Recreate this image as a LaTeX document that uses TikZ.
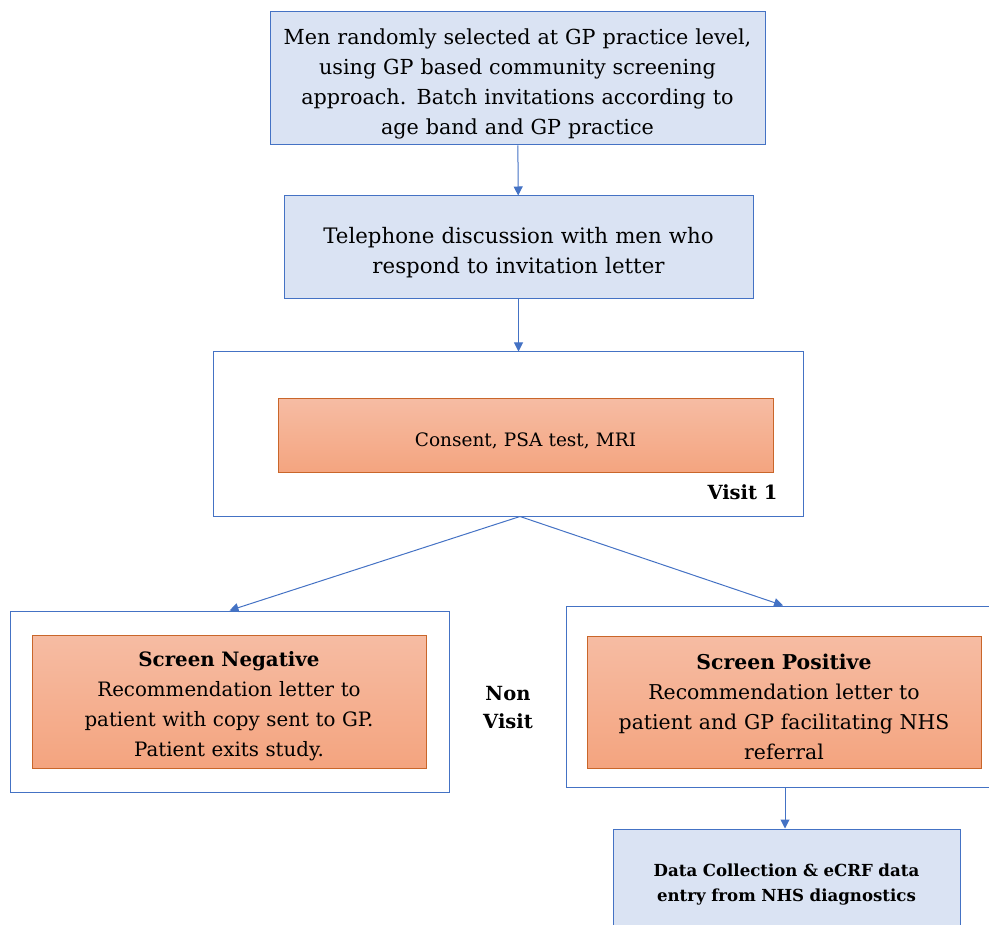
\documentclass[tikz,border=0pt]{standalone}
\usepackage{fontspec}
\setmainfont{DejaVu Serif}
\usetikzlibrary{positioning,arrows.meta}
\definecolor{boxblue}{HTML}{4472C4}
\definecolor{boxfill}{HTML}{DAE3F3}
\definecolor{orline}{HTML}{C9662A}
\definecolor{ortop}{HTML}{F6BCA3}
\definecolor{orbot}{HTML}{F4A47F}

\begin{document}
\begin{tikzpicture}[
		x=1pt,y=-1pt,
		bluebox/.style={
			draw=boxblue,
			fill=boxfill,
			line width=1pt,
			align=center,
			text width=468pt,
			inner sep=0pt,
			execute at begin node={\rule{0pt}{1.25em}},
			font=\fontsize{20.7}{30}\selectfont
		},
		framebox/.style={
			draw=boxblue,
			fill=white,
			line width=1pt,
			inner sep=0pt
		},
		orbox/.style={
			draw=orline,
			top color=ortop,
			bottom color=orbot,
			line width=1pt,
			align=center,
			text width=380pt,
			inner sep=0pt,
			execute at begin node={\rule{0pt}{1.25em}},
			font=\fontsize{19.8}{30}\selectfont
		},
		tag/.style={
			align=center,
			font=\fontsize{19.5}{28}\selectfont\bfseries
		},
		flow/.style={
			draw=boxblue,
			line width=1pt,
			-{Triangle[length=9pt,width=9pt]}
		}
		]
		
		\clip (0,0) rectangle (989,925);
		
		\node[bluebox,minimum width=495,minimum height=133]
		(invite) at (517.5,78.5)
		{Men randomly selected at GP practice level,\\
			using GP based community screening\\
			approach. Batch invitations according to\\
			age band and GP practice};
		
		\node[bluebox,minimum width=469,minimum height=103,
		font=\fontsize{21.3}{30}\selectfont]
		(phone) at (518.5,247.5)
		{Telephone discussion with men who\\
			respond to invitation letter};
		
		\node[framebox,minimum width=590,minimum height=164]
		(visit) at (508,434) {};
		
		\node[orbox,minimum width=495,minimum height=74,
		font=\fontsize{18.5}{30}\selectfont,
		execute at begin node={\rule{0pt}{1.15em}}]
		(tests) at (525.5,436)
		{Consent, PSA test, MRI};
		
		\node[tag,anchor=east] (visitlbl) at (781,492) {Visit 1};
		
		\node[framebox,minimum width=439,minimum height=181]
		(negframe) at (229.5,701.5) {};
		
		\node[orbox,minimum width=394,minimum height=133]
		(neg) at (229,701.5)
		{\textbf{Screen Negative}\\
			Recommendation letter to\\
			patient with copy sent to GP.\\
			Patient exits study.};
		
		\node[tag] (nonvisit) at (508,708) {Non\\Visit};
		
		\node[framebox,minimum width=434,minimum height=181]
		(posframe) at (783,696.5) {};
		
		\node[orbox,minimum width=394,minimum height=132,
		font=\fontsize{20.4}{30}\selectfont]
		(pos) at (784,702)
		{\textbf{Screen Positive}\\
			Recommendation letter to\\
			patient and GP facilitating NHS\\
			referral};
		
		\node[bluebox,minimum width=347,minimum height=102,text width=330pt,
		font=\fontsize{16.6}{25}\selectfont\bfseries]
		(data) at (786.5,880)
		{Data Collection \& eCRF data\\
			entry from NHS diagnostics};
		
		\draw[flow] (invite)--(phone);
		\draw[flow] (phone.south)--(phone.south |- visit.north);
		\draw[flow] ([xshift=12]visit.south)--(negframe.north);
		\draw[flow] ([xshift=12]visit.south)--(posframe.north);
		\draw[flow] ([xshift=2]posframe.south)--([xshift=-1.5]data.north);
		
	\end{tikzpicture}
\end{document}
